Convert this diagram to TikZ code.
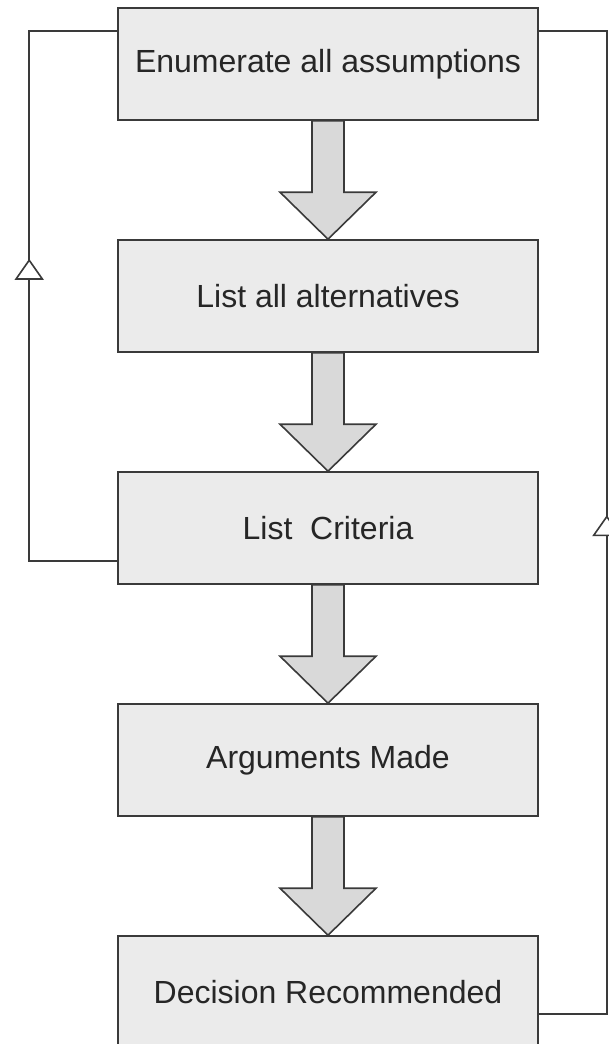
\documentclass[tikz,border=0pt]{standalone}
\usepackage{fontspec}
\setmainfont{Liberation Sans}
\usepackage{tikz}
\usetikzlibrary{arrows.meta,calc,positioning,decorations.markings}
\definecolor{boxfill}{HTML}{EBEBEB}
\definecolor{arrowfill}{HTML}{D9D9D9}
\definecolor{edgegray}{HTML}{3A3A3A}
\tikzstyle{stepbox}=[rectangle, draw=edgegray, fill=boxfill, line width=1.6pt, minimum width=420pt, minimum height=112pt, inner sep=0pt, text=black!85, font=\fontsize{32}{38}\selectfont]
\tikzstyle{blockarrow}=[draw=edgegray, fill=arrowfill, line width=1.6pt, line join=miter]
\tikzstyle{loopline}=[draw=edgegray, line width=1.6pt, postaction={decorate}]
\tikzset{loophead/.tip={Triangle[length=21pt, width=29pt, fill=white]}}
\newcommand{\bigarrow}[2]{%
	\draw[blockarrow] ($(#1.south)+(-16pt,0)$) -- ($(#2.north)+(-16pt,47pt)$)
		-- ($(#2.north)+(-48pt,47pt)$) -- (#2.north)
		-- ($(#2.north)+(48pt,47pt)$) -- ($(#2.north)+(16pt,47pt)$)
		-- ($(#1.south)+(16pt,0)$) -- cycle;}

\begin{document}
\begin{tikzpicture}[node distance=118.4pt]
			\useasboundingbox (0,0) rectangle (608pt,-1044pt);
			\node[stepbox] (enum) at (328pt,-64pt) {Enumerate all assumptions};
			\node[stepbox,below=of enum] (alts) {List all alternatives};
			\node[stepbox,below=of alts] (crit) {List~~Criteria};
			\node[stepbox,below=of crit] (args) {Arguments Made};
			\node[stepbox,below=of args] (dec) {Decision Recommended};

			\foreach \a/\b in {enum/alts, alts/crit, crit/args, args/dec}
				\bigarrow{\a}{\b};

			\draw[loopline,decoration={markings,mark=at position 390pt with {\arrow{loophead}}}]
				([yshift=24pt] crit.south west) -- ++(-88pt,0)
				|- ([yshift=-24pt] enum.north west);

			\draw[loopline,decoration={markings,mark=at position 567pt with {\arrow{loophead}}}]
				([yshift=-79pt] dec.north east) -- ++(68pt,0)
				|- ([yshift=-24pt] enum.north east);
		\end{tikzpicture}
\end{document}
